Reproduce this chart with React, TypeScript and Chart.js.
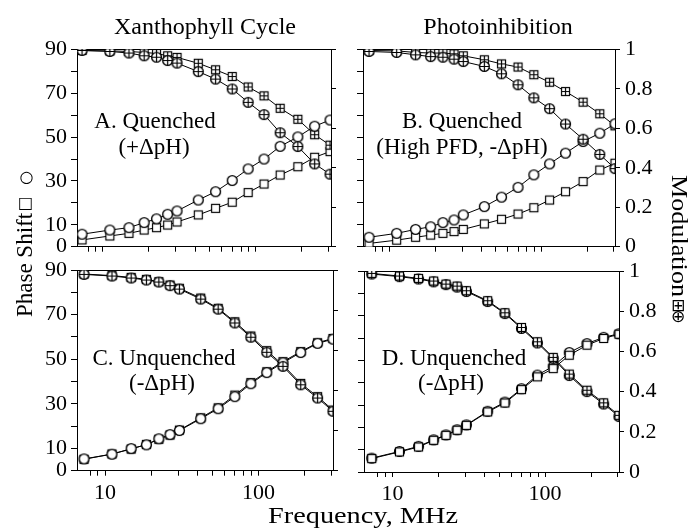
import React, { useEffect, useRef } from 'react';
import { Chart, registerables } from 'chart.js';
Chart.register(...registerables);

// Frequencies (MHz)
const freq = [7.3, 11.1, 14.8, 18.6, 22.4, 26.5, 30.5, 42, 54.5, 70, 89, 113, 144, 188, 242, 305];
const xTickValues = [8, 9, 10, 20, 30, 40, 50, 60, 70, 80, 90, 100, 200, 300];
const xTickLabels = [10, 100];
const phaseTickLabels = [0, 10, 30, 50, 70, 90];

// A. Quenched (+ΔpH) – Xanthophyll cycle
const phaseSqA = [3.1, 4.9, 6.1, 7.6, 8.7, 9.9, 11.3, 14.5, 17.5, 20.3, 24.7, 28.6, 32.7, 36.5, 40.8, 43.4];
const phaseCircA = [5.7, 7.6, 8.7, 11.0, 12.7, 14.8, 16.3, 21.3, 25.1, 30.2, 35.5, 40.0, 45.8, 50.1, 55.0, 57.8];
const modSqA = [0.995, 0.993, 0.99, 0.985, 0.98, 0.968, 0.96, 0.93, 0.897, 0.863, 0.81, 0.765, 0.702, 0.646, 0.568, 0.515];
const modCircA = [0.995, 0.99, 0.982, 0.968, 0.961, 0.944, 0.931, 0.888, 0.85, 0.8, 0.732, 0.67, 0.578, 0.508, 0.42, 0.368];

// B. Quenched (High PFD, -ΔpH) – Photoinhibition
const phaseSqB = [1.5, 3.0, 4.3, 5.3, 6.1, 6.9, 7.9, 10.4, 12.5, 14.9, 17.8, 21.3, 25.1, 29.7, 35.0, 38.1];
const phaseCircB = [4.3, 6.1, 7.9, 9.1, 11.0, 12.2, 14.5, 18.3, 22.6, 27.1, 32.8, 37.8, 42.7, 48.0, 51.8, 56.1];
const modSqB = [0.995, 0.993, 0.985, 0.982, 0.982, 0.978, 0.968, 0.948, 0.927, 0.911, 0.872, 0.834, 0.787, 0.733, 0.674, 0.613];
const modCircB = [0.99, 0.985, 0.973, 0.964, 0.961, 0.951, 0.939, 0.914, 0.877, 0.821, 0.755, 0.7, 0.622, 0.545, 0.468, 0.396];

// C. Unquenched (-ΔpH) – Xanthophyll cycle
const phaseSqC = [5.1, 7.5, 9.7, 11.8, 14.1, 16.0, 18.2, 23.7, 28.2, 33.9, 39.5, 44.4, 48.9, 53.4, 57.4, 59.3];
const phaseCircC = [5.3, 7.4, 9.9, 11.6, 14.3, 16.2, 18.0, 23.3, 27.8, 33.2, 39.0, 44.0, 48.4, 53.0, 57.1, 59.0];
const modSqC = [0.98, 0.972, 0.963, 0.953, 0.942, 0.925, 0.909, 0.86, 0.809, 0.742, 0.671, 0.598, 0.527, 0.435, 0.369, 0.302];
const modCircC = [0.978, 0.97, 0.96, 0.95, 0.94, 0.922, 0.905, 0.855, 0.805, 0.736, 0.665, 0.59, 0.52, 0.428, 0.362, 0.296];

// D. Unquenched (-ΔpH) – Photoinhibition
const phaseSqD = [6.0, 9.0, 11.2, 14.2, 16.4, 18.7, 20.9, 26.9, 30.9, 36.9, 42.6, 46.3, 52.3, 56.8, 59.8, 61.7];
const phaseCircD = [6.2, 9.2, 11.5, 14.4, 16.6, 18.9, 21.1, 27.2, 31.3, 37.3, 43.4, 47.3, 53.5, 57.5, 60.3, 61.9];
const modSqD = [0.988, 0.975, 0.963, 0.95, 0.935, 0.925, 0.902, 0.852, 0.792, 0.719, 0.648, 0.57, 0.487, 0.407, 0.344, 0.282];
const modCircD = [0.985, 0.972, 0.96, 0.946, 0.932, 0.92, 0.898, 0.848, 0.788, 0.714, 0.642, 0.565, 0.48, 0.4, 0.338, 0.276];

const FONT = "'Liberation Serif', 'Times New Roman', Times, serif";
const W = 690;
const H = 528;
const AXW = 60;
const AXH = 40;

type PanelSpec = {
  area: [number, number, number, number];
  xMin: number;
  xMax: number;
  leftLabels: boolean;
  rightLabels: boolean;
  bottomLabels: boolean;
  phaseSq: number[];
  phaseCirc: number[];
  modSq: number[];
  modCirc: number[];
  squaresOnTop: boolean;
};

const panels: PanelSpec[] = [
  { area: [77, 49.5, 331, 246.7], xMin: 6.77, xMax: 309.6, leftLabels: true, rightLabels: false, bottomLabels: false,
    phaseSq: phaseSqA, phaseCirc: phaseCircA, modSq: modSqA, modCirc: modCircA, squaresOnTop: true },
  { area: [363, 49.5, 615, 246.7], xMin: 6.66, xMax: 305, leftLabels: false, rightLabels: true, bottomLabels: false,
    phaseSq: phaseSqB, phaseCirc: phaseCircB, modSq: modSqB, modCirc: modCircB, squaresOnTop: true },
  { area: [77, 270, 333, 470.7], xMin: 6.57, xMax: 305, leftLabels: true, rightLabels: false, bottomLabels: true,
    phaseSq: phaseSqC, phaseCirc: phaseCircC, modSq: modSqC, modCirc: modCircC, squaresOnTop: true },
  { area: [364, 271, 619, 472], xMin: 6.5, xMax: 305, leftLabels: false, rightLabels: true, bottomLabels: true,
    phaseSq: phaseSqD, phaseCirc: phaseCircD, modSq: modSqD, modCirc: modCircD, squaresOnTop: false },
];

function makeMarker(shape: 'sq' | 'ci', plus: boolean): HTMLCanvasElement {
  const c = document.createElement('canvas');
  c.width = 13;
  c.height = 13;
  const g = c.getContext('2d')!;
  g.fillStyle = '#fff';
  g.strokeStyle = '#000';
  g.lineWidth = 1.2;
  if (shape === 'sq') {
    g.fillRect(2, 2, 9, 9);
    g.strokeRect(2.5, 2.5, 8, 8);
  } else {
    g.beginPath();
    g.arc(6.5, 6.5, 4.9, 0, Math.PI * 2);
    g.fill();
    g.lineWidth = 1.4;
    g.stroke();
  }
  if (plus) {
    g.lineWidth = 1.2;
    g.beginPath();
    g.moveTo(6.5, 2);
    g.lineTo(6.5, 11);
    g.moveTo(2, 6.5);
    g.lineTo(11, 6.5);
    g.stroke();
  }
  return c;
}

function PanelChart({ spec }: { spec: PanelSpec }) {
  const ref = useRef<HTMLCanvasElement>(null);
  useEffect(() => {
    const [L, T, R, B] = spec.area;
    const sq = makeMarker('sq', false);
    const sqp = makeMarker('sq', true);
    const ci = makeMarker('ci', false);
    const cip = makeMarker('ci', true);
    const pts = (ys: number[]) => ys.map((y, i) => ({ x: freq[i], y }));
    const ds = (label: string, ys: number[], axis: string, style: HTMLCanvasElement) => ({
      label,
      data: pts(ys),
      yAxisID: axis,
      borderColor: '#000',
      backgroundColor: '#fff',
      borderWidth: 1,
      pointStyle: style,
      pointRadius: 5,
      pointHoverRadius: 5,
      tension: 0,
      fill: false,
    });
    const circles = [ds('Modulation ⊕', spec.modCirc, 'y2', cip), ds('Phase ○', spec.phaseCirc, 'y', ci)];
    const squares = [ds('Modulation ⊞', spec.modSq, 'y2', sqp), ds('Phase □', spec.phaseSq, 'y', sq)];
    const datasets = spec.squaresOnTop ? [...circles, ...squares] : [...squares, ...circles];
    const font = { family: FONT, size: 22 };
    const chart = new Chart(ref.current!, {
      type: 'line',
      data: { datasets } as any,
      options: {
        responsive: false,
        animation: false,
        devicePixelRatio: 1,
        events: [],
        layout: {
          autoPadding: false,
          padding: { left: L - AXW, right: W - R - AXW, top: T, bottom: H - B - AXH },
        },
        plugins: { legend: { display: false }, tooltip: { enabled: false }, title: { display: false } },
        scales: {
          x: {
            type: 'logarithmic',
            position: 'bottom',
            min: spec.xMin,
            max: spec.xMax,
            afterBuildTicks: (ax: any) => {
              ax.ticks = xTickValues.map((v) => ({ value: v }));
            },
            afterFit: (ax: any) => {
              ax.height = AXH;
            },
            ticks: {
              display: spec.bottomLabels,
              autoSkip: false,
              maxRotation: 0,
              minRotation: 0,
              padding: 4,
              color: '#000',
              font,
              callback: (v: any) => (xTickLabels.includes(Number(v)) ? String(v) : ''),
            },
            grid: { drawOnChartArea: false, color: '#000', tickLength: 5, lineWidth: 1 },
            border: { display: true, color: '#000', width: 1 },
          },
          xTop: {
            type: 'logarithmic',
            position: 'top',
            min: spec.xMin,
            max: spec.xMax,
            afterFit: (ax: any) => {
              ax.height = 0;
            },
            ticks: { display: false },
            grid: { drawOnChartArea: false, drawTicks: false },
            border: { display: true, color: '#000', width: 1 },
          },
          y: {
            type: 'linear',
            position: 'left',
            min: 0,
            max: 90,
            afterFit: (ax: any) => {
              ax.width = AXW;
            },
            ticks: {
              display: spec.leftLabels,
              autoSkip: false,
              stepSize: 10,
              padding: 4,
              color: '#000',
              font,
              callback: (v: any) => (phaseTickLabels.includes(Number(v)) ? String(v) : ''),
            },
            grid: { drawOnChartArea: false, color: '#000', tickLength: 6, lineWidth: 1 },
            border: { display: true, color: '#000', width: 1 },
          },
          y2: {
            type: 'linear',
            position: 'right',
            min: 0,
            max: 1,
            afterFit: (ax: any) => {
              ax.width = AXW;
            },
            ticks: {
              display: spec.rightLabels,
              autoSkip: false,
              stepSize: 0.2,
              padding: 5,
              color: '#000',
              font,
              callback: (v: any) => String(Number(Number(v).toFixed(1))),
            },
            grid: { drawOnChartArea: false, color: '#000', tickLength: 5, lineWidth: 1 },
            border: { display: true, color: '#000', width: 1 },
          },
        },
      } as any,
    });
    return () => chart.destroy();
  }, [spec]);
  return (
    <canvas
      ref={ref}
      width={W}
      height={H}
      style={{ position: 'absolute', left: 0, top: 0, width: W, height: H, pointerEvents: 'none' }}
    />
  );
}

function Txt({ x, baseline, size, text, sx = 1 }: { x: number; baseline: number; size: number; text: string; sx?: number }) {
  return (
    <div
      style={{
        position: 'absolute',
        left: x,
        top: baseline - 0.8375 * size,
        fontFamily: FONT,
        fontSize: size,
        lineHeight: `${size}px`,
        whiteSpace: 'nowrap',
        color: '#000',
        transform: `translateX(-50%) scaleX(${sx})`,
      }}
    >
      {text}
    </div>
  );
}

function RotTxt({ cx, cy, size, text, deg, sx = 1 }: { cx: number; cy: number; size: number; text: string; deg: number; sx?: number }) {
  return (
    <div
      style={{
        position: 'absolute',
        left: cx,
        top: cy,
        fontFamily: FONT,
        fontSize: size,
        lineHeight: `${size}px`,
        whiteSpace: 'nowrap',
        color: '#000',
        transform: `translate(-50%, -50%) rotate(${deg}deg) scaleX(${sx})`,
      }}
    >
      {text}
    </div>
  );
}

function Sym({ cx, cy, size, text }: { cx: number; cy: number; size: number; text: string }) {
  return (
    <div
      style={{
        position: 'absolute',
        left: cx,
        top: cy,
        fontFamily: "'DejaVu Sans', sans-serif",
        fontSize: size,
        lineHeight: `${size}px`,
        color: '#000',
        transform: 'translate(-50%, -50%)',
      }}
    >
      {text}
    </div>
  );
}

export default function App() {
  return (
    <div style={{ position: 'absolute', left: 0, top: 0, width: W, height: H, background: '#fff', overflow: 'hidden' }}>
      {panels.map((p, i) => (
        <PanelChart key={i} spec={p} />
      ))}
      <Txt x={205} baseline={34} size={24} text="Xanthophyll Cycle" />
      <Txt x={498} baseline={34} size={24} text="Photoinhibition" />
      <Txt x={155} baseline={128.5} size={23} text="A. Quenched" />
      <Txt x={154} baseline={154} size={23} text="(+ΔpH)" />
      <Txt x={462} baseline={128.5} size={23} text="B. Quenched" />
      <Txt x={462} baseline={154} size={23} text="(High PFD, -ΔpH)" />
      <Txt x={164} baseline={365} size={23} text="C. Unquenched" />
      <Txt x={162} baseline={390.7} size={23} text="(-ΔpH)" />
      <Txt x={454} baseline={365} size={23} text="D. Unquenched" />
      <Txt x={451} baseline={390.7} size={23} text="(-ΔpH)" />
      <Txt x={363} baseline={523} size={24} text="Frequency, MHz" sx={1.18} />
      <RotTxt cx={24.2} cy={265} size={23} text="Phase Shift" deg={-90} />
      <Sym cx={25.5} cy={203} size={16} text="□" />
      <Sym cx={26.5} cy={177} size={16} text="○" />
      <RotTxt cx={680.4} cy={236} size={24} text="Modulation" deg={90} sx={1.09} />
      <Sym cx={678} cy={305} size={17} text="⊞" />
      <Sym cx={678} cy={316} size={17} text="⊕" />
    </div>
  );
}
